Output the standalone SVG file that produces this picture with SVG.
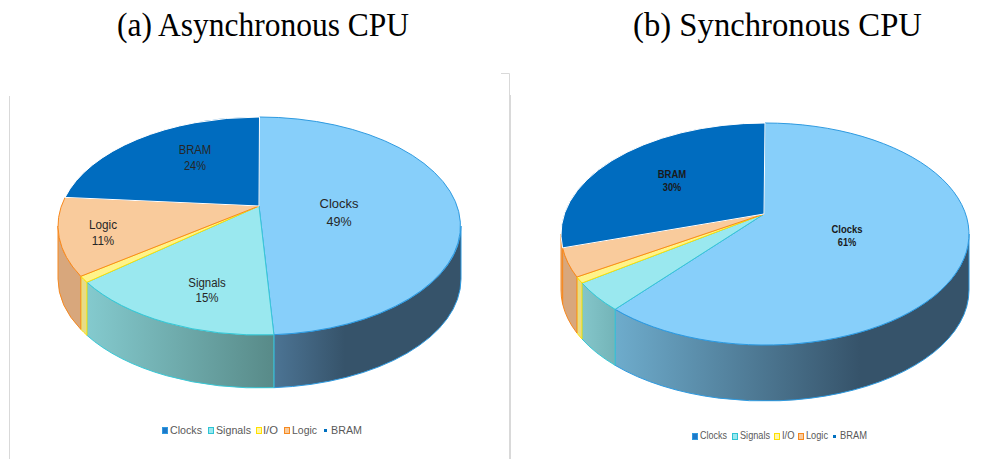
<svg xmlns="http://www.w3.org/2000/svg" width="1006" height="459" viewBox="0 0 1006 459">
  <style>
    .title { font-family: "Liberation Serif", "Times New Roman", serif; font-size: 34px; fill: #000; }
    .lbl { font-family: "Liberation Sans", Arial, sans-serif; font-size: 12.5px; fill: #262626; text-anchor: middle; }
    .lblb { font-family: "Liberation Sans", Arial, sans-serif; font-size: 10.5px; font-weight: bold; fill: #1a1a1a; text-anchor: middle; }
    .leg { font-family: "Liberation Sans", Arial, sans-serif; font-size: 11.5px; fill: #595959; }
    .legs { font-family: "Liberation Sans", Arial, sans-serif; font-size: 10.5px; fill: #595959; }
    .frame { fill: none; stroke: #d9d9d9; stroke-width: 1; }
    .clk-top { fill: #87cffa; stroke: #2e9ae0; stroke-width: 1; stroke-linejoin: round; }
    .sig-top { fill: #9ae8ef; stroke: #38c8d6; stroke-width: 1; stroke-linejoin: round; }
    .io-top { fill: #fff38a; stroke: #ffe000; stroke-width: 1; stroke-linejoin: round; }
    .log-top { fill: #f9cb9c; stroke: #f7891f; stroke-width: 1; stroke-linejoin: round; }
    .bram-top { fill: #006cbf; stroke: #ffffff; stroke-width: 1; stroke-linejoin: round; }
    .io-side { fill: #e6dc88; stroke: #ffe000; stroke-width: 1; }
    .log-side { fill: #d8a77c; stroke: #f7891f; stroke-width: 1; }
    .bram-side { fill: #004f8c; stroke: #006cbf; stroke-width: 1; }
    .sq-clk { fill: #1e78c8; stroke: #2e9ae0; }
    .sq-sig { fill: #9ae8ef; stroke: #2ec4d4; }
    .sq-io { fill: #fff6a8; stroke: #ffe000; }
    .sq-log { fill: #f9cb9c; stroke: #f7891f; }
    .sq-bram { fill: #0070c0; }
  </style>
  <defs>
    <linearGradient id="clkSideA" gradientUnits="userSpaceOnUse" x1="274" y1="0" x2="345" y2="0">
      <stop offset="0" stop-color="#4c7494"/>
      <stop offset="1" stop-color="#36536a"/>
    </linearGradient>
    <linearGradient id="sigSideA" gradientUnits="userSpaceOnUse" x1="87" y1="0" x2="274" y2="0">
      <stop offset="0" stop-color="#84cace"/>
      <stop offset="1" stop-color="#588a88"/>
    </linearGradient>
    <linearGradient id="clkSideB" gradientUnits="userSpaceOnUse" x1="615" y1="0" x2="860" y2="0">
      <stop offset="0" stop-color="#6eaccc"/>
      <stop offset="1" stop-color="#36536a"/>
    </linearGradient>
    <linearGradient id="sigSideB" gradientUnits="userSpaceOnUse" x1="582" y1="0" x2="615" y2="0">
      <stop offset="0" stop-color="#84c6ca"/>
      <stop offset="1" stop-color="#74b4b8"/>
    </linearGradient>
  </defs>

  <!-- captions -->
  <text class="title" x="117" y="36" textLength="292" lengthAdjust="spacingAndGlyphs">(a) Asynchronous CPU</text>
  <text class="title" x="633" y="36" textLength="289" lengthAdjust="spacingAndGlyphs">(b) Synchronous CPU</text>

  <!-- chart area borders -->
  <line class="frame" x1="9.5" y1="96" x2="9.5" y2="459"/>
  <polyline class="frame" points="501,73.5 509.5,73.5 509.5,459"/>
  <line class="frame" x1="510.5" y1="95" x2="510.5" y2="459"/>

  <!-- (a) asynchronous CPU pie -->
  <g id="pie-async">
    <g id="async-sides">
      <path id="async-clocks-side" d="M461,226 A201.5 109 0 0 1 273.9,334.7 L273.9,387.7 A201.5 109 0 0 0 461,279 Z" fill="url(#clkSideA)" stroke="#2e9ae0" stroke-width="1"/>
      <path id="async-signals-side" d="M273.9,334.7 A201.5 109 0 0 1 86.95,282.3 L86.95,335.3 A201.5 109 0 0 0 273.9,387.7 Z" fill="url(#sigSideA)" stroke="#38c8d6" stroke-width="1"/>
      <path id="async-io-side" class="io-side" d="M86.95,282.3 A201.5 109 0 0 1 80.77,276.3 L80.77,329.3 A201.5 109 0 0 0 86.95,335.3 Z"/>
      <path id="async-logic-side" class="log-side" d="M80.77,276.3 A201.5 109 0 0 1 58,226 L58,279 A201.5 109 0 0 0 80.77,329.3 Z"/>
    </g>
    <g id="async-clocks">
      <path class="clk-top" d="M259,206 L259.5,117 A201.5 109 0 0 1 273.9,334.7 Z"/>
      <text class="lbl" x="339" y="208" textLength="39" lengthAdjust="spacingAndGlyphs">Clocks</text>
      <text class="lbl" x="339" y="226" textLength="25" lengthAdjust="spacingAndGlyphs">49%</text>
    </g>
    <g id="async-signals">
      <path class="sig-top" d="M259,206 L273.9,334.7 A201.5 109 0 0 1 86.95,282.3 Z"/>
      <text class="lbl" x="207" y="287" textLength="37.5" lengthAdjust="spacingAndGlyphs">Signals</text>
      <text class="lbl" x="207" y="302" textLength="23" lengthAdjust="spacingAndGlyphs">15%</text>
    </g>
    <g id="async-io">
      <path class="io-top" d="M259,206 L86.95,282.3 A201.5 109 0 0 1 80.77,276.3 Z"/>
    </g>
    <g id="async-logic">
      <path class="log-top" d="M259,206 L80.77,276.3 A201.5 109 0 0 1 65.05,197.4 Z"/>
      <text class="lbl" x="103" y="229" textLength="28" lengthAdjust="spacingAndGlyphs">Logic</text>
      <text class="lbl" x="103" y="245" textLength="22.5" lengthAdjust="spacingAndGlyphs">11%</text>
    </g>
    <g id="async-bram">
      <path class="bram-top" d="M259,206 L65.05,197.4 A201.5 109 0 0 1 259.5,117 Z"/>
      <text class="lbl" x="195" y="154" textLength="32.5" lengthAdjust="spacingAndGlyphs">BRAM</text>
      <text class="lbl" x="195" y="170" textLength="22" lengthAdjust="spacingAndGlyphs">24%</text>
    </g>
  </g>

  <g id="legend-async">
    <rect class="sq-clk" x="162.5" y="427.5" width="5" height="6"/>
    <text class="leg" x="170" y="434" textLength="32" lengthAdjust="spacingAndGlyphs">Clocks</text>
    <rect class="sq-sig" x="208.5" y="427.5" width="5" height="6"/>
    <text class="leg" x="216" y="434" textLength="35" lengthAdjust="spacingAndGlyphs">Signals</text>
    <rect class="sq-io" x="256.5" y="427.5" width="5" height="6"/>
    <text class="leg" x="263" y="434" textLength="15" lengthAdjust="spacingAndGlyphs">I/O</text>
    <rect class="sq-log" x="284.5" y="427.5" width="5" height="6"/>
    <text class="leg" x="292" y="434" textLength="25" lengthAdjust="spacingAndGlyphs">Logic</text>
    <rect class="sq-bram" x="324" y="429" width="3" height="3"/>
    <text class="leg" x="331" y="434" textLength="31" lengthAdjust="spacingAndGlyphs">BRAM</text>
  </g>

  <!-- (b) synchronous CPU pie -->
  <g id="pie-sync">
    <g id="sync-sides">
      <path id="sync-clocks-side" d="M969,234 A204 111 0 0 1 615.1,309.3 L615.1,365.3 A204 111 0 0 0 969,290 Z" fill="url(#clkSideB)" stroke="#2e9ae0" stroke-width="1"/>
      <path id="sync-signals-side" d="M615.1,309.3 A204 111 0 0 1 582,283 L582,339 A204 111 0 0 0 615.1,365.3 Z" fill="url(#sigSideB)" stroke="#38c8d6" stroke-width="1"/>
      <path id="sync-io-side" class="io-side" d="M582,283 A204 111 0 0 1 576.9,277 L576.9,333 A204 111 0 0 0 582,339 Z"/>
      <path id="sync-logic-side" class="log-side" d="M576.9,277 A204 111 0 0 1 562.6,247.9 L562.6,303.9 A204 111 0 0 0 576.9,333 Z"/>
      <path id="sync-bram-side" class="log-side" d="M562.6,247.9 A204 111 0 0 1 561,234 L561,290 A204 111 0 0 0 562.6,303.9 Z"/>
    </g>
    <g id="sync-clocks">
      <path class="clk-top" d="M764,214 L765,123 A204 111 0 1 1 615.1,309.3 Z"/>
      <text class="lblb" x="847" y="233" textLength="31" lengthAdjust="spacingAndGlyphs">Clocks</text>
      <text class="lblb" x="847" y="246" textLength="18.5" lengthAdjust="spacingAndGlyphs">61%</text>
    </g>
    <g id="sync-signals">
      <path class="sig-top" d="M764,214 L615.1,309.3 A204 111 0 0 1 582,283 Z"/>
    </g>
    <g id="sync-io">
      <path class="io-top" d="M764,214 L582,283 A204 111 0 0 1 576.9,277 Z"/>
    </g>
    <g id="sync-logic">
      <path class="log-top" d="M764,214 L576.9,277 A204 111 0 0 1 562.6,247.9 Z"/>
    </g>
    <g id="sync-bram">
      <path class="bram-top" d="M764,214 L562.6,247.9 A204 111 0 0 1 765,123 Z"/>
      <text class="lblb" x="672" y="177.5" textLength="28.5" lengthAdjust="spacingAndGlyphs">BRAM</text>
      <text class="lblb" x="672" y="191" textLength="18.5" lengthAdjust="spacingAndGlyphs">30%</text>
    </g>
  </g>

  <g id="legend-sync">
    <rect class="sq-clk" x="692.5" y="433.5" width="5" height="6"/>
    <text class="legs" x="700" y="439" textLength="27" lengthAdjust="spacingAndGlyphs">Clocks</text>
    <rect class="sq-sig" x="732.5" y="433.5" width="5" height="6"/>
    <text class="legs" x="740" y="439" textLength="30" lengthAdjust="spacingAndGlyphs">Signals</text>
    <rect class="sq-io" x="774.5" y="433.5" width="5" height="6"/>
    <text class="legs" x="782" y="439" textLength="12.5" lengthAdjust="spacingAndGlyphs">I/O</text>
    <rect class="sq-log" x="798.5" y="433.5" width="5" height="6"/>
    <text class="legs" x="806" y="439" textLength="22" lengthAdjust="spacingAndGlyphs">Logic</text>
    <rect class="sq-bram" x="833" y="435" width="3" height="3"/>
    <text class="legs" x="840" y="439" textLength="27" lengthAdjust="spacingAndGlyphs">BRAM</text>
  </g>
</svg>
